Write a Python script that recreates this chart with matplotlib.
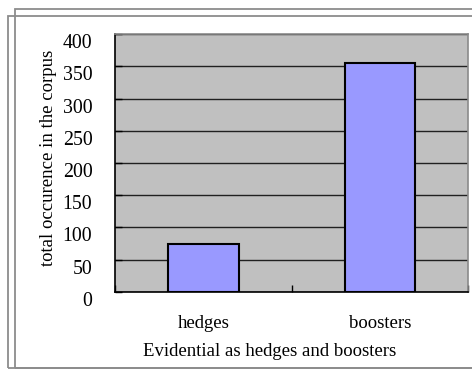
import matplotlib
matplotlib.use("Agg")
import matplotlib.pyplot as plt
import matplotlib.transforms as mtransforms
from matplotlib.patches import Rectangle

categories = ["hedges", "boosters"]
counts = [74, 356]
y_ticks = [0, 50, 100, 150, 200, 250, 300, 350, 400]

plt.rcParams["font.family"] = ["Liberation Serif", "DejaVu Serif"]

W, H = 472, 369
fig = plt.figure(figsize=(W / 100, H / 100), dpi=100)
fig.patch.set_facecolor("white")

# Axes placement in pixel terms
left, right, top, bottom = 115.3, 468.3, 34.3, 291.7
ax = fig.add_axes([left / W, 1 - bottom / H, (right - left) / W, (bottom - top) / H])
ax.set_facecolor("#C0C0C0")

x = range(len(categories))
ax.bar(x, counts, width=0.4, color="#9999FF", edgecolor="black", linewidth=1.5, zorder=3)

ax.set_xlim(-0.5, len(categories) - 0.5)
ax.set_ylim(0, 400)
ax.set_yticks(y_ticks)
ax.set_yticklabels([str(v) for v in y_ticks], fontsize=14.3)
ax.yaxis.grid(True, color="#202020", linewidth=1.0, zorder=1)
ax.set_axisbelow(True)

# x ticks at category boundaries, labels at category centres
ax.set_xticks([-0.5, 0.5, 1.5])
ax.set_xticklabels([])
ax.set_xticks(list(x), minor=True)
ax.set_xticklabels(categories, minor=True, fontsize=13.5)
ax.tick_params(axis="x", which="major", direction="in", length=5, width=1, color="black")
ax.tick_params(axis="x", which="minor", length=0, pad=17)
ax.tick_params(axis="y", direction="in", length=5, width=1, color="black", pad=16.5)

# y tick labels sit slightly below their gridlines
offset = mtransforms.ScaledTranslation(0, -7 / 100, fig.dpi_scale_trans)
for lbl in ax.get_yticklabels():
    lbl.set_transform(lbl.get_transform() + offset)

for s in ["left", "bottom"]:
    ax.spines[s].set_color("black")
    ax.spines[s].set_linewidth(1.2)
for s in ["top", "right"]:
    ax.spines[s].set_color("#8A8A8A")
    ax.spines[s].set_linewidth(1.2)

fig.text(49 / W, 1 - 158 / H, "total occurence in the corpus", rotation=90,
         ha="center", va="center", fontsize=13.5)
fig.text(270 / W, 1 - 351.5 / H, "Evidential as hedges and boosters",
         ha="center", va="center", fontsize=13.5)

# Double frame around the chart
frame_kw = dict(transform=None, fill=False, edgecolor="#8C8C8C", linewidth=1.3)
fig.patches.append(Rectangle((14.5, H - 367.5), 470, 359, **frame_kw))
fig.patches.append(Rectangle((7.5, H - 367.5), 470, 352, **frame_kw))

fig.savefig("out.png", dpi=100)
